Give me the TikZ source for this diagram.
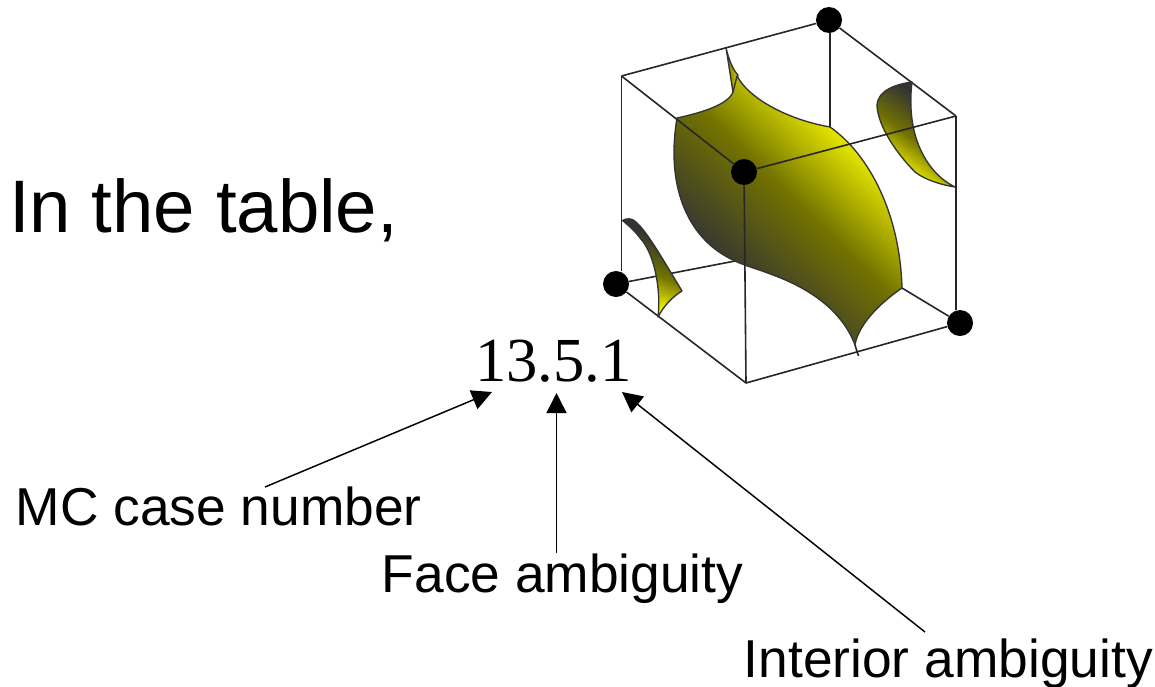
\documentclass[tikz,border=0pt]{standalone}
\usepackage{fontspec}
\setmainfont{Liberation Sans}
\newfontfamily\timesf{Liberation Serif}
\usetikzlibrary{arrows.meta}
\pgfdeclareverticalshading{surfshade}{100bp}{color(0bp)=(black!80); color(33bp)=(black!80); color(53bp)=(yellow!45!black); color(72bp)=(yellow); color(100bp)=(yellow)}
\tikzset{
  edge/.style={line width=1.2pt,draw=black!85},
  vertexdot/.style={circle,fill=black,inner sep=0pt,minimum size=19.5pt},
  surf/.style={draw=black!80,line width=1pt,line join=round},
  lbl/.style={inner sep=0pt,anchor=base west,font=\fontsize{40}{40}\selectfont},
  pointer/.style={line width=1.1pt,-{Stealth[length=15pt,width=15pt,inset=0pt]}},
}
\begin{document}
\begin{tikzpicture}[x=0.75pt,y=-0.75pt]
\useasboundingbox (0,0) rectangle (1155,686);
% cube corners
\coordinate (a) at (621.5,76);
\coordinate (r) at (956,116);
\coordinate (bf) at (746,383);
\coordinate (backin) at (830,127);
\coordinate (lin) at (735,261);
\coordinate (rin) at (902,288);
\node[vertexdot] (dt) at (829,20) {};
\node[vertexdot] (dl) at (616,284) {};
\node[vertexdot] (dr) at (960,323) {};
% back edges
\draw[edge] (a) -- (dt);
\draw[edge] (dt) -- (r);
\draw[edge] (dt.south -| backin) -- (backin);
\draw[edge] (a) -- (a |- dl.north);
\draw[edge] (r) -- (r |- dr.north);
\draw[edge] (dl) -- (bf);
\draw[edge] (bf) -- (dr);
\draw[edge] (dl) -- (lin);
\draw[edge] (dr) -- (rin);
% left sliver
\shade[surf,shading=surfshade,shading angle=160]
  (622.5,220.5) .. controls (627,218) and (632,218) .. (636,222)
  .. controls (648,233) and (662,258) .. (682,291)
  .. controls (672,297) and (663,307) .. (658,317)
  .. controls (661,295) and (656,255) .. (640,238)
  .. controls (635,231) and (628,225) .. cycle;
% right sliver
\shade[surf,shading=surfshade,shading angle=145]
  (912,82) .. controls (897,84) and (877,90) .. (877,106)
  .. controls (878,125) and (895,152) .. (915,172)
  .. controls (925,180) and (942,185) .. (955,187)
  .. controls (930,175) and (905,140) .. (912,82) -- cycle;
% top sliver
\shade[surf,top color=yellow!45!black,bottom color=yellow!80!black,shading=axis,shading angle=90]
  (726,48) .. controls (729,60) and (733,70) .. (738,75)
  .. controls (737,82) and (735,88) .. (733,92)
  .. controls (731,80) and (728,60) .. cycle;
% main surface
\shade[surf,shading=surfshade,shading angle=-44]
  (677,118) .. controls (700,113) and (728,105) .. (733,92)
  -- (737,76) .. controls (750,100) and (790,120) .. (830,127)
  .. controls (870,155) and (900,215) .. (902,288)
  .. controls (880,303) and (858,325) .. (855,345)
  .. controls (840,305) and (800,285) .. (773,275)
  .. controls (755,268) and (745,266) .. (733,260)
  .. controls (690,240) and (665,190) .. (677,118) -- cycle;
% lines in front
\node[vertexdot] (df) at (744,172) {};
\draw[edge] (a) -- (df);
\draw[edge] (df) -- (r);
\draw[edge] (df) -- (bf);
\draw[edge] (855,345) -- (858.5,356);
% text
\node[inner sep=0pt,anchor=base west,font=\fontsize{55.8}{56}\selectfont] (title) at (9,232) {In the table,};
\node[inner sep=0pt,anchor=base west,font=\timesf\fontsize{47}{47}\selectfont] (num) at (475,381) {13.5.1};
\node[lbl] (mc) at (15.5,525) {MC case number};
\node[lbl] (fa) at (381.5,592) {Face ambiguity};
\node[lbl] (ia) at (743.5,677) {Interior ambiguity};
\draw[pointer] ([shift={(249.5,-38)}]mc.base west) -- ([shift={(17,11)}]num.base west);
\draw[pointer] ([shift={(175,-39)}]fa.base west) -- ([shift={(81.5,12)}]num.base west);
\draw[pointer] ([shift={(181.5,-45)}]ia.base west) -- ([shift={(147,11)}]num.base west);
\end{tikzpicture}
\end{document}
